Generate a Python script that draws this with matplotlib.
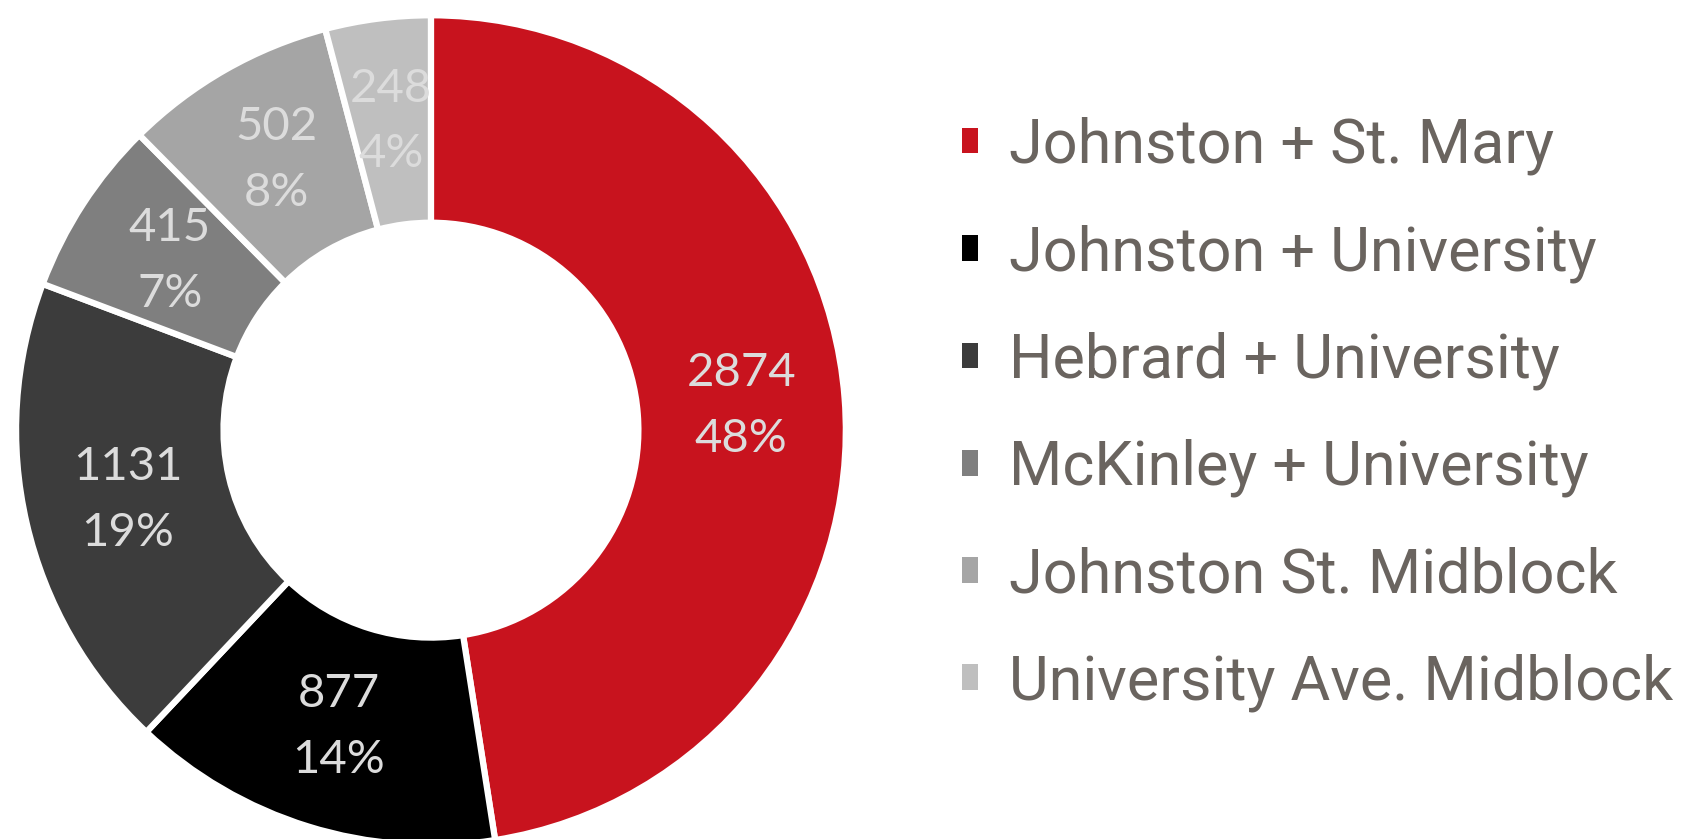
import numpy as np
import matplotlib.pyplot as plt

# crossings counted at each location
locations = ['Johnston + St. Mary', 'Johnston + University', 'Hebrard + University',
             'McKinley + University', 'Johnston St. Midblock', 'University Ave. Midblock']
counts = [2874, 877, 1131, 415, 502, 248]
percents = ['48%', '14%', '19%', '7%', '8%', '4%']
colors = ['#C8131E', '#000000', '#3C3C3C', '#7F7F7F', '#A5A5A5', '#BFBFBF']

fig = plt.figure(figsize=(16.9, 8.39), dpi=100)

# donut sits on the left half
ax = fig.add_axes([0.0095, -0.0072, 0.491, 0.989])
wedges, _ = ax.pie(counts, colors=colors, startangle=90, counterclock=False,
                   radius=1.0, wedgeprops=dict(width=0.5, edgecolor='white', linewidth=4.5))
ax.set_xlim(-1, 1)
ax.set_ylim(-1, 1)
ax.set_aspect('equal')
ax.axis('off')

# value + percent label in the middle of each ring segment
for w, n, p in zip(wedges, counts, percents):
    ang = np.deg2rad((w.theta1 + w.theta2) / 2)
    x, y = 0.75 * np.cos(ang), 0.75 * np.sin(ang)
    ax.text(x, y, f'{n}\n{p}', ha='center', va='center', color='#DCDCDC',
            fontsize=34, family='Lato', linespacing=1.7)

leg = fig.legend(wedges, locations, loc='upper left', bbox_to_anchor=(0.569, 0.861),
                 frameon=False, prop=dict(family='Roboto', size=44),
                 handlelength=0.27, handleheight=0.27, handletextpad=0.51,
                 labelspacing=0.8, borderpad=0, borderaxespad=0)
for t in leg.get_texts():
    t.set_color('#6A645F')
for h in leg.legend_handles:
    h.set_edgecolor('none')

fig.savefig('out.png', dpi=100, facecolor='white')
